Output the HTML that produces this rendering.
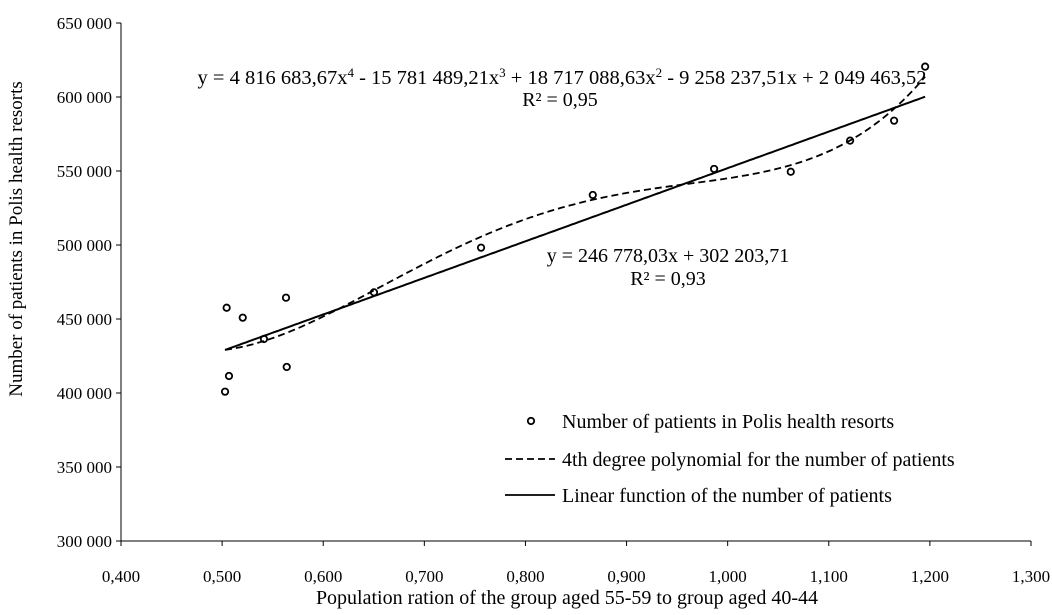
<!DOCTYPE html>
<html><head><meta charset="utf-8"><style>
body{margin:0;background:#fff}
svg text{font-family:"Liberation Serif",serif;fill:#000}
</style></head><body>
<svg id="chart" width="1052" height="610">
<g id="axes"></g><g id="marks"></g>
<text x="562" y="84" font-size="20.5" text-anchor="middle">y = 4 816 683,67x<tspan dy="-7" font-size="13">4</tspan><tspan dy="7"> - 15 781 489,21x</tspan><tspan dy="-7" font-size="13">3</tspan><tspan dy="7"> + 18 717 088,63x</tspan><tspan dy="-7" font-size="13">2</tspan><tspan dy="7"> - 9 258 237,51x + 2 049 463,52</tspan></text>
<text x="560" y="106" font-size="20" text-anchor="middle">R² = 0,95</text>
<text x="668" y="262" font-size="20" text-anchor="middle">y = 246 778,03x + 302 203,71</text>
<text x="668" y="285" font-size="20" text-anchor="middle">R² = 0,93</text>
<g>
<circle cx="531" cy="421" r="3.2" fill="none" stroke="#000" stroke-width="1.8"/>
<text x="562" y="428" font-size="20">Number of patients in Polis health resorts</text>
<line x1="505" y1="459" x2="555" y2="459" stroke="#000" stroke-width="1.8" stroke-dasharray="7,4"/>
<text x="562" y="466" font-size="20">4th degree polynomial for the number of patients</text>
<line x1="505" y1="495" x2="555" y2="495" stroke="#000" stroke-width="1.8"/>
<text x="562" y="502" font-size="20">Linear function of the number of patients</text>
</g>
<text x="567" y="604" font-size="20" text-anchor="middle">Population ration of the group aged 55-59 to group aged 40-44</text>
<text transform="translate(22,239) rotate(-90)" font-size="19" text-anchor="middle">Number of patients in Polis health resorts</text>
</svg>
<script>
const xValues=[0.5045,0.5204,0.5632,0.5414,0.5639,0.5068,0.5029,0.6502,0.7561,0.8666,0.9866,1.0624,1.1211,1.1646,1.1953];
const yValues=[457600,450900,464400,436500,417600,411500,400900,468000,498200,533800,551400,549500,570500,584000,620500];
const xTicks=[0.4,0.5,0.6,0.7,0.8,0.9,1.0,1.1,1.2,1.3];
const yTicks=[300000,350000,400000,450000,500000,550000,600000,650000];
const NS="http://www.w3.org/2000/svg";
const X0=121,X1=1031,Y0=541,Y1=23;
function sx(v){return X0+(v-0.4)/0.9*(X1-X0);}
function sy(v){return Y0-(v-300000)/350000*(Y0-Y1);}
function mk(tag,attrs,parent){const e=document.createElementNS(NS,tag);for(const k in attrs)e.setAttribute(k,attrs[k]);parent.appendChild(e);return e;}
const axes=document.getElementById('axes'),marks=document.getElementById('marks');
const ya=mk('line',{x1:X0,y1:Y1,x2:X0,y2:Y0,stroke:'#000','stroke-width':1},axes);


const xa=mk('line',{x1:X0,y1:Y0,x2:X1,y2:Y0,stroke:'#000','stroke-width':1},axes);


function fmtY(v){return String(v).replace(/\B(?=(\d{3})+(?!\d))/g,' ');}
yTicks.forEach(v=>{
  mk('line',{x1:X0-5,y1:sy(v),x2:X0,y2:sy(v),stroke:'#000'},axes);
  const t=mk('text',{x:X0-9,y:sy(v)+6,'font-size':17,'text-anchor':'end'},axes);
  t.textContent=fmtY(v);
  
  
});
xTicks.forEach(v=>{
  mk('line',{x1:sx(v),y1:Y0,x2:sx(v),y2:Y0+5,stroke:'#000'},axes);
  const t=mk('text',{x:sx(v),y:Y0+41,'font-size':17,'text-anchor':'middle'},axes);
  t.textContent=v.toFixed(3).replace('.',',');
  
  
});
function fit(deg){
  const n=deg+1,A=[],b=[];
  for(let i=0;i<n;i++){A.push(new Array(n).fill(0));b.push(0);}
  xValues.forEach((x,k)=>{const y=yValues[k];for(let i=0;i<n;i++){b[i]+=Math.pow(x,i)*y;for(let j=0;j<n;j++)A[i][j]+=Math.pow(x,i+j);}});
  for(let c=0;c<n;c++){let p=c;for(let r=c+1;r<n;r++)if(Math.abs(A[r][c])>Math.abs(A[p][c]))p=r;
    [A[c],A[p]]=[A[p],A[c]];[b[c],b[p]]=[b[p],b[c]];
    for(let r=0;r<n;r++){if(r===c)continue;const f=A[r][c]/A[c][c];for(let j=c;j<n;j++)A[r][j]-=f*A[c][j];b[r]-=f*b[c];}}
  return b.map((v,i)=>v/A[i][i]);
}
function ev(co,x){return co.reduce((s,c,i)=>s+c*Math.pow(x,i),0);}
const xmin=Math.min(...xValues),xmax=Math.max(...xValues);
function curve(co){let d='';for(let i=0;i<=200;i++){const x=xmin+(xmax-xmin)*i/200;d+=(i?'L':'M')+sx(x).toFixed(1)+','+sy(ev(co,x)).toFixed(1);}return d;}
const poly=mk('path',{d:curve(fit(4)),fill:'none',stroke:'#000','stroke-width':1.8,'stroke-dasharray':'7,4'},marks);


const lin=mk('path',{d:curve(fit(1)),fill:'none',stroke:'#000','stroke-width':2},marks);


xValues.forEach((x,i)=>{
  const c=mk('circle',{cx:sx(x),cy:sy(yValues[i]),r:3.2,fill:'none',stroke:'#000','stroke-width':1.8},marks);
  
  
});
</script>
</body></html>
